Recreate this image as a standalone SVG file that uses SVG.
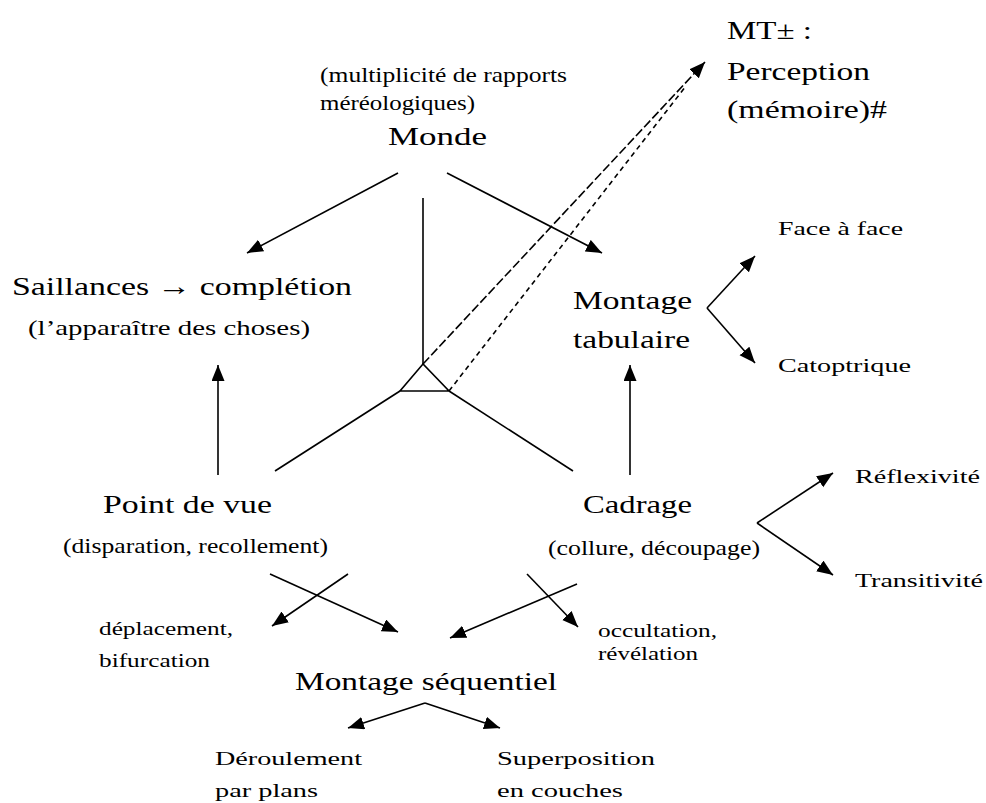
<svg xmlns="http://www.w3.org/2000/svg" width="986" height="803" viewBox="0 0 986 803">
  <style>
    text { font-family: "Liberation Serif", "DejaVu Serif", serif; fill: #000; }
    .big { font-size: 26px; }
    .mid { font-size: 21px; }
    .sm { font-size: 19px; }
    .ln { stroke: #000; stroke-width: 1.6; fill: none; }
    .arr { marker-end: url(#head); }
    .longdash { stroke-dasharray: 9 3; }
    .shortdash { stroke-dasharray: 5 4; }
  </style>
  <defs>
    <!-- solid triangular arrowhead shared by all arrows -->
    <marker id="head" markerUnits="userSpaceOnUse" markerWidth="18" markerHeight="14" refX="16" refY="6.5" orient="auto">
      <path d="M0,0 L16,6.5 L0,13 Z" fill="#000"/>
    </marker>
  </defs>
  <rect width="986" height="803" fill="#fff"/>

  <g id="monde">
    <text class="mid" x="320" y="82" textLength="247" lengthAdjust="spacingAndGlyphs">(multiplicité de rapports</text>
    <text class="mid" x="320" y="110" textLength="155" lengthAdjust="spacingAndGlyphs">méréologiques)</text>
    <text class="big" x="388" y="145" textLength="99" lengthAdjust="spacingAndGlyphs">Monde</text>
  </g>
  <g id="perception">
    <text class="big" x="727" y="39" textLength="85" lengthAdjust="spacingAndGlyphs">MT± :</text>
    <text class="big" x="727" y="80" textLength="143" lengthAdjust="spacingAndGlyphs">Perception</text>
    <text class="big" x="727" y="118" textLength="160" lengthAdjust="spacingAndGlyphs">(mémoire)#</text>
  </g>
  <g id="saillances">
    <text class="big" x="12" y="295" textLength="340" lengthAdjust="spacingAndGlyphs">Saillances → complétion</text>
    <text class="mid" x="28" y="335" textLength="282" lengthAdjust="spacingAndGlyphs">(l’apparaître des choses)</text>
  </g>
  <g id="montage-tabulaire">
    <text class="big" x="573" y="309" textLength="119" lengthAdjust="spacingAndGlyphs">Montage</text>
    <text class="big" x="573" y="348" textLength="117" lengthAdjust="spacingAndGlyphs">tabulaire</text>
  </g>
  <g id="face-a-face">
    <text class="sm" x="778" y="235" textLength="125" lengthAdjust="spacingAndGlyphs">Face à face</text>
  </g>
  <g id="catoptrique">
    <text class="sm" x="778" y="372" textLength="133" lengthAdjust="spacingAndGlyphs">Catoptrique</text>
  </g>
  <g id="point-de-vue">
    <text class="big" x="103" y="513" textLength="169" lengthAdjust="spacingAndGlyphs">Point de vue</text>
    <text class="mid" x="63" y="553" textLength="265" lengthAdjust="spacingAndGlyphs">(disparation, recollement)</text>
  </g>
  <g id="cadrage">
    <text class="big" x="583" y="513" textLength="109" lengthAdjust="spacingAndGlyphs">Cadrage</text>
    <text class="mid" x="548" y="555" textLength="212" lengthAdjust="spacingAndGlyphs">(collure, découpage)</text>
  </g>
  <g id="reflexivite">
    <text class="sm" x="855" y="483" textLength="125" lengthAdjust="spacingAndGlyphs">Réflexivité</text>
  </g>
  <g id="transitivite">
    <text class="sm" x="855" y="587" textLength="128" lengthAdjust="spacingAndGlyphs">Transitivité</text>
  </g>
  <g id="deplacement">
    <text class="sm" x="99" y="635" textLength="134" lengthAdjust="spacingAndGlyphs">déplacement,</text>
    <text class="sm" x="99" y="667" textLength="111" lengthAdjust="spacingAndGlyphs">bifurcation</text>
  </g>
  <g id="occultation">
    <text class="sm" x="598" y="637" textLength="119" lengthAdjust="spacingAndGlyphs">occultation,</text>
    <text class="sm" x="598" y="660" textLength="100" lengthAdjust="spacingAndGlyphs">révélation</text>
  </g>
  <g id="montage-sequentiel">
    <text class="big" x="295" y="690" textLength="262" lengthAdjust="spacingAndGlyphs">Montage séquentiel</text>
  </g>
  <g id="deroulement">
    <text class="sm" x="215" y="765" textLength="147" lengthAdjust="spacingAndGlyphs">Déroulement</text>
    <text class="sm" x="215" y="797" textLength="103" lengthAdjust="spacingAndGlyphs">par plans</text>
  </g>
  <g id="superposition">
    <text class="sm" x="497" y="765" textLength="158" lengthAdjust="spacingAndGlyphs">Superposition</text>
    <text class="sm" x="497" y="797" textLength="126" lengthAdjust="spacingAndGlyphs">en couches</text>
  </g>

  <g id="connectors">
    <!-- central tripod with small triangle -->
    <line class="ln" x1="423" y1="198" x2="423" y2="364"/>
    <path class="ln" d="M423,364 L400,391 L449,391 Z"/>
    <line class="ln" x1="400" y1="391" x2="275" y2="471"/>
    <line class="ln" x1="449" y1="391" x2="573" y2="471"/>
    <!-- dashed links towards perception -->
    <line class="ln longdash arr" x1="423" y1="364" x2="705" y2="62"/>
    <line class="ln shortdash" x1="449" y1="391" x2="686" y2="86"/>
    <!-- arrows -->
    <line class="ln arr" x1="398" y1="173" x2="247" y2="253"/>
    <line class="ln arr" x1="447" y1="173" x2="602" y2="253"/>
    <line class="ln arr" x1="218" y1="475" x2="218" y2="365"/>
    <line class="ln arr" x1="630" y1="475" x2="630" y2="365"/>
    <line class="ln arr" x1="707" y1="308" x2="755" y2="256"/>
    <line class="ln arr" x1="707" y1="308" x2="755" y2="363"/>
    <line class="ln arr" x1="757" y1="523" x2="833" y2="473"/>
    <line class="ln arr" x1="757" y1="523" x2="833" y2="575"/>
    <line class="ln arr" x1="270" y1="574" x2="398" y2="632"/>
    <line class="ln arr" x1="348" y1="574" x2="272" y2="626"/>
    <line class="ln arr" x1="577" y1="584" x2="450" y2="638"/>
    <line class="ln arr" x1="527" y1="574" x2="578" y2="627"/>
    <line class="ln arr" x1="425" y1="703" x2="348" y2="728"/>
    <line class="ln arr" x1="425" y1="703" x2="500" y2="728"/>
  </g>
</svg>
